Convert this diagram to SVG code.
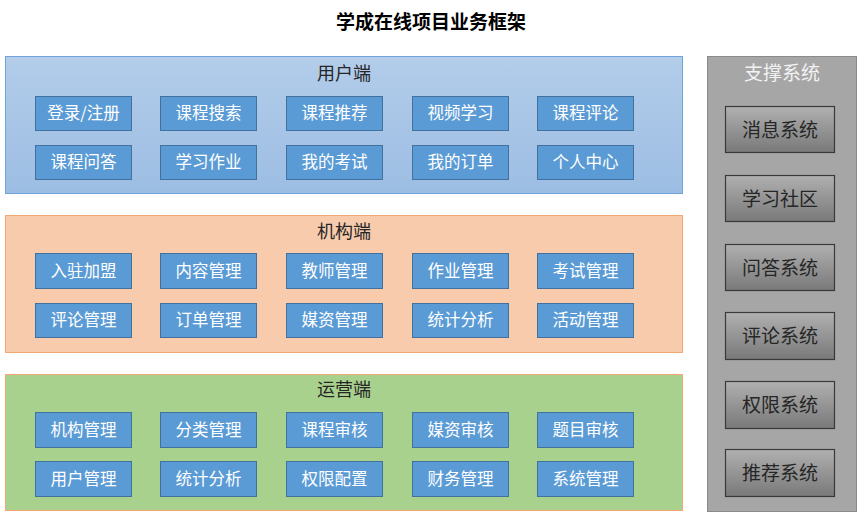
<svg xmlns="http://www.w3.org/2000/svg" width="863" height="516" viewBox="0 0 863 516">
<style>
text{font-family:"Noto Sans CJK SC","Liberation Sans",sans-serif;text-anchor:middle;dominant-baseline:central}
.title{font-size:19px;fill:#000;font-weight:bold}
.plabel{font-size:18px;fill:#262626}
.b rect{fill:#5b9bd5;stroke:#41719c;stroke-width:1}
.b text{font-size:16.5px;fill:#fff}
.s rect{fill:url(#gs);stroke:#3a3a3a;stroke-width:1.2}
.s text{font-size:19px;fill:#262626}
</style>
<defs>
<linearGradient id="gb" x1="0" y1="0" x2="0" y2="1"><stop offset="0" stop-color="#b3cdea"/><stop offset="1" stop-color="#9cbde3"/></linearGradient>
<linearGradient id="gs" x1="0" y1="0" x2="0" y2="1"><stop offset="0" stop-color="#b0b0b0"/><stop offset="1" stop-color="#797979"/></linearGradient>
</defs>
<text class="title" x="431" y="20">学成在线项目业务框架</text>

<g id="user">
<rect x="5.5" y="56.5" width="677" height="137" fill="url(#gb)" stroke="#70a3da"/>
<text class="plabel" x="344" y="72">用户端</text>
</g>
<g id="org">
<rect x="5.5" y="215.5" width="677" height="137" fill="#f8cbad" stroke="#f2a774"/>
<text class="plabel" x="344" y="230">机构端</text>
</g>
<g id="ops">
<rect x="5.5" y="374.5" width="677" height="136" fill="#a9d18e" stroke="#f2a774"/>
<text class="plabel" x="344" y="388">运营端</text>
</g>
<g id="support">
<rect x="707.5" y="56.5" width="149" height="455" fill="#a6a6a6" stroke="#8a8a8a"/>
<text class="plabel" x="782" y="71" style="fill:#f2f2f2;font-size:19px">支撑系统</text>
</g>

<g id="u1" class="b"><rect x="35.5" y="96.5" width="96" height="34"/><text x="83.5" y="112">登录/注册</text></g>
<g id="u2" class="b"><rect x="160.5" y="96.5" width="96" height="34"/><text x="208.5" y="112">课程搜索</text></g>
<g id="u3" class="b"><rect x="286.5" y="96.5" width="96" height="34"/><text x="334.5" y="112">课程推荐</text></g>
<g id="u4" class="b"><rect x="412.5" y="96.5" width="96" height="34"/><text x="460.5" y="112">视频学习</text></g>
<g id="u5" class="b"><rect x="537.5" y="96.5" width="96" height="34"/><text x="585.5" y="112">课程评论</text></g>
<g id="u6" class="b"><rect x="35.5" y="145.5" width="96" height="34"/><text x="83.5" y="161">课程问答</text></g>
<g id="u7" class="b"><rect x="160.5" y="145.5" width="96" height="34"/><text x="208.5" y="161">学习作业</text></g>
<g id="u8" class="b"><rect x="286.5" y="145.5" width="96" height="34"/><text x="334.5" y="161">我的考试</text></g>
<g id="u9" class="b"><rect x="412.5" y="145.5" width="96" height="34"/><text x="460.5" y="161">我的订单</text></g>
<g id="u10" class="b"><rect x="537.5" y="145.5" width="96" height="34"/><text x="585.5" y="161">个人中心</text></g>

<g id="o1" class="b"><rect x="35.5" y="253.5" width="96" height="35"/><text x="83.5" y="269.5">入驻加盟</text></g>
<g id="o2" class="b"><rect x="160.5" y="253.5" width="96" height="35"/><text x="208.5" y="269.5">内容管理</text></g>
<g id="o3" class="b"><rect x="286.5" y="253.5" width="96" height="35"/><text x="334.5" y="269.5">教师管理</text></g>
<g id="o4" class="b"><rect x="412.5" y="253.5" width="96" height="35"/><text x="460.5" y="269.5">作业管理</text></g>
<g id="o5" class="b"><rect x="537.5" y="253.5" width="96" height="35"/><text x="585.5" y="269.5">考试管理</text></g>
<g id="o6" class="b"><rect x="35.5" y="303.5" width="96" height="34"/><text x="83.5" y="319">评论管理</text></g>
<g id="o7" class="b"><rect x="160.5" y="303.5" width="96" height="34"/><text x="208.5" y="319">订单管理</text></g>
<g id="o8" class="b"><rect x="286.5" y="303.5" width="96" height="34"/><text x="334.5" y="319">媒资管理</text></g>
<g id="o9" class="b"><rect x="412.5" y="303.5" width="96" height="34"/><text x="460.5" y="319">统计分析</text></g>
<g id="o10" class="b"><rect x="537.5" y="303.5" width="96" height="34"/><text x="585.5" y="319">活动管理</text></g>

<g id="p1" class="b"><rect x="35.5" y="412.5" width="96" height="35"/><text x="83.5" y="428.5">机构管理</text></g>
<g id="p2" class="b"><rect x="160.5" y="412.5" width="96" height="35"/><text x="208.5" y="428.5">分类管理</text></g>
<g id="p3" class="b"><rect x="286.5" y="412.5" width="96" height="35"/><text x="334.5" y="428.5">课程审核</text></g>
<g id="p4" class="b"><rect x="412.5" y="412.5" width="96" height="35"/><text x="460.5" y="428.5">媒资审核</text></g>
<g id="p5" class="b"><rect x="537.5" y="412.5" width="96" height="35"/><text x="585.5" y="428.5">题目审核</text></g>
<g id="p6" class="b"><rect x="35.5" y="461.5" width="96" height="35"/><text x="83.5" y="477.5">用户管理</text></g>
<g id="p7" class="b"><rect x="160.5" y="461.5" width="96" height="35"/><text x="208.5" y="477.5">统计分析</text></g>
<g id="p8" class="b"><rect x="286.5" y="461.5" width="96" height="35"/><text x="334.5" y="477.5">权限配置</text></g>
<g id="p9" class="b"><rect x="412.5" y="461.5" width="96" height="35"/><text x="460.5" y="477.5">财务管理</text></g>
<g id="p10" class="b"><rect x="537.5" y="461.5" width="96" height="35"/><text x="585.5" y="477.5">系统管理</text></g>

<g id="s1" class="s"><rect x="725.5" y="106.5" width="109" height="46"/><text x="780" y="128">消息系统</text></g>
<g id="s2" class="s"><rect x="725.5" y="175.5" width="109" height="46"/><text x="780" y="197">学习社区</text></g>
<g id="s3" class="s"><rect x="725.5" y="244.5" width="109" height="46"/><text x="780" y="266">问答系统</text></g>
<g id="s4" class="s"><rect x="725.5" y="312.5" width="109" height="47"/><text x="780" y="334.5">评论系统</text></g>
<g id="s5" class="s"><rect x="725.5" y="381.5" width="109" height="47"/><text x="780" y="403.5">权限系统</text></g>
<g id="s6" class="s"><rect x="725.5" y="449.5" width="109" height="47"/><text x="780" y="471.5">推荐系统</text></g>

<g id="connectors"></g>
</svg>
